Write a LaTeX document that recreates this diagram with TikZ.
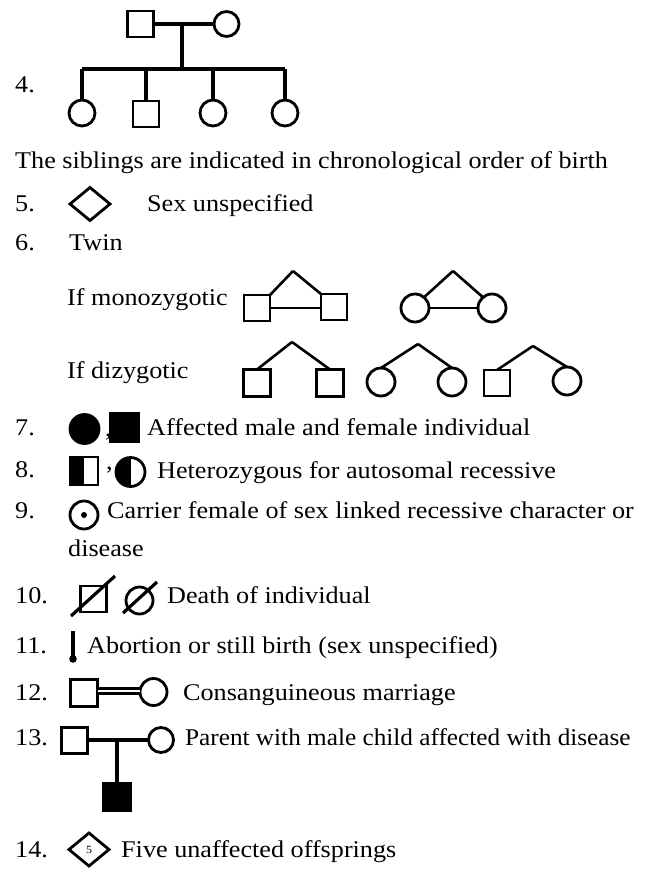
\documentclass[tikz,border=0pt]{standalone}
\usepackage{fontspec}
\setmainfont[FakeStretch=1.09]{Liberation Serif}
\newfontfamily\narrowserif[FakeStretch=1.052]{Liberation Serif}
\usetikzlibrary{shapes.geometric}
\begin{document}
\begin{tikzpicture}[x=1pt,y=-1pt,
  sq/.style={draw, line width=2.8pt, minimum size=26pt, inner sep=0pt, outer sep=0pt},
  ci/.style={draw, circle, line width=2.8pt, minimum size=27pt, inner sep=0pt, outer sep=0pt},
  dia/.style={draw, diamond, line width=2.8pt, minimum width=40pt, minimum height=33pt, inner sep=0pt, outer sep=0pt},
  txt/.style={anchor=base west, inner sep=0pt, font=\fontsize{24}{28}\selectfont},
  ln/.style={line width=3.2pt},
  tw/.style={line width=2.6pt}]
\useasboundingbox (0,0) rectangle (656,876);

% ---------- 4 ----------
\node[txt] (n4) at (15,92) {4.};
\node[sq] (f4) at (140.5,24) {};
\node[ci, minimum size=25pt] (m4) at (226.5,24) {};
\draw[ln] (f4) -- (m4);
\coordinate (d4) at (182,24);
\coordinate (s4) at (182,69);
\draw[ln] (d4) -- (s4);
\node[ci, minimum size=26pt] (c41) at (82,113) {};
\node[sq] (c42) at (146,114) {};
\node[ci, minimum size=26pt] (c43) at (213,113) {};
\node[ci, minimum size=26pt] (c44) at (285,113) {};
\coordinate (sl) at (82,69);
\coordinate (sr) at (285,69);
\draw[ln] (sl) -- (sr);
\foreach \c in {c41,c42,c43,c44} \draw[ln] (\c.north) -- (\c.north |- s4);

\node[txt] (sib) at (15,168) {The siblings are indicated in chronological order of birth};

% ---------- 5 ----------
\node[txt] (n5) at (15,211) {5.};
\node[dia] (d5) at (90,204) {};
\node[txt] (t5) at (147,211) {Sex unspecified};

% ---------- 6 ----------
\node[txt] (n6) at (15,250) {6.};
\node[txt] (t6) at (69,250) {Twin};
\node[txt] (mz) at (67,305) {If monozygotic};
\node[txt] (dz) at (67,378) {If dizygotic};

% monozygotic males
\node[sq] (ms1) at (257,308) {};
\node[sq] (ms2) at (334,307) {};
\coordinate (ma1) at (293,271);
\draw[tw] (ma1) -- (ms1.north east);
\draw[tw] (ma1) -- (ms2.north west);
\draw[tw] (ms1.east) -- (ms2.west |- ms1.east);
% monozygotic females
\node[ci, minimum size=28pt] (mc1) at (415,308) {};
\node[ci, minimum size=28pt] (mc2) at (492,308) {};
\coordinate (ma2) at (453,271);
\draw[tw] (ma2) -- (mc1.50);
\draw[tw] (ma2) -- (mc2.130);
\draw[tw] (mc1.east) -- (mc2.west);

% dizygotic males
\node[sq, minimum size=27pt] (ds1) at (257,383) {};
\node[sq, minimum size=27pt] (ds2) at (330,383) {};
\coordinate (da1) at (292,342);
\draw[tw] (da1) -- (ds1.north);
\draw[tw] (da1) -- (ds2.north);
% dizygotic females
\node[ci, minimum size=28pt] (dc1) at (381,382) {};
\node[ci, minimum size=28pt] (dc2) at (452,382) {};
\coordinate (da2) at (418,344);
\draw[tw] (da2) -- (dc1.north);
\draw[tw] (da2) -- (dc2.north);
% dizygotic mixed
\node[sq] (ds3) at (497,383) {};
\node[ci, minimum size=28pt] (dc3) at (567,381) {};
\coordinate (da3) at (533,346);
\draw[tw] (da3) -- (ds3.north);
\draw[tw] (da3) -- (dc3.north);

% ---------- 7 ----------
\node[txt] (n7) at (15,435) {7.};
\node[ci, fill=black, minimum size=29pt] (af7) at (84.5,429) {};
\node[txt] (cm7) at (105,436) {,};
\node[sq, fill=black, minimum size=28pt] (am7) at (124.5,427.5) {};
\node[txt] (t7) at (147,435) {Affected male and female individual};

% ---------- 8 ----------
\node[txt] (n8) at (15,477) {8.};
\node[sq, minimum size=28pt, path picture={\fill[black] (path picture bounding box.south west) rectangle (path picture bounding box.north);}] (h8s) at (84,471) {};
\node[txt] (cm8) at (106,469) {,};
\node[ci, minimum size=29pt, path picture={\fill[black] (path picture bounding box.south west) rectangle (path picture bounding box.north);}] (h8c) at (130.5,472) {};
\node[txt] (t8) at (157,478) {Heterozygous  for  autosomal  recessive};

% ---------- 9 ----------
\node[txt] (n9) at (15,518) {9.};
\node[ci, minimum size=28pt] (c9) at (84,515) {};
\fill (c9.center) circle[radius=3pt];
\node[txt] (t9) at (107,518) {Carrier female of sex linked recessive character or};
\node[txt] (t9b) at (68,556) {disease};

% ---------- 10 ----------
\node[txt] (n10) at (15,603) {10.};
\node[sq] (s10) at (93.5,599) {};
\coordinate (s10a) at (71,616);
\coordinate (s10b) at (115,576);
\draw[ln] (s10a) -- (s10b);
\node[ci] (c10) at (139.5,600.5) {};
\coordinate (c10a) at (123,613);
\coordinate (c10b) at (157,582);
\draw[ln] (c10a) -- (c10b);
\node[txt] (t10) at (167,603) {Death of individual};

% ---------- 11 ----------
\node[txt] (n11) at (15,653) {11.};
\coordinate (ab1) at (73,631);
\coordinate (ab2) at (73,659);
\draw[line width=3.4pt] (ab1) -- (ab2);
\fill (ab2) circle[radius=3.8pt];
\node[txt] (t11) at (87,653) {Abortion or still birth (sex unspecified)};

% ---------- 12 ----------
\node[txt] (n12) at (15,700) {12.};
\node[sq, minimum size=27pt] (s12) at (84,693) {};
\node[ci] (c12) at (153.5,692) {};
\draw[line width=3.2pt, double=white, double distance=2.4pt] (s12.east |- 0,691) -- (c12.west |- 0,691);
\node[txt] (t12) at (183,700) {Consanguineous marriage};

% ---------- 13 ----------
\node[txt] (n13) at (15,745) {13.};
\node[sq] (s13) at (74.5,740.5) {};
\node[ci, minimum size=25pt] (c13) at (161,740) {};
\draw[ln] (s13.east |- c13.west) -- (c13.west);
\coordinate (d13) at (117,740);
\node[sq, fill=black, minimum size=27pt] (k13) at (117,797) {};
\draw[ln] (d13) -- (k13.north);
\node[txt, font=\fontsize{24}{28}\narrowserif] (t13) at (185,745) {Parent with male child affected with disease};

% ---------- 14 ----------
\node[txt] (n14) at (15,857) {14.};
\node[dia] (d14) at (89,849.5) {\fontsize{11}{12}\selectfont 5};
\node[txt] (t14) at (121,857) {Five unaffected offsprings};
\end{tikzpicture}
\end{document}
